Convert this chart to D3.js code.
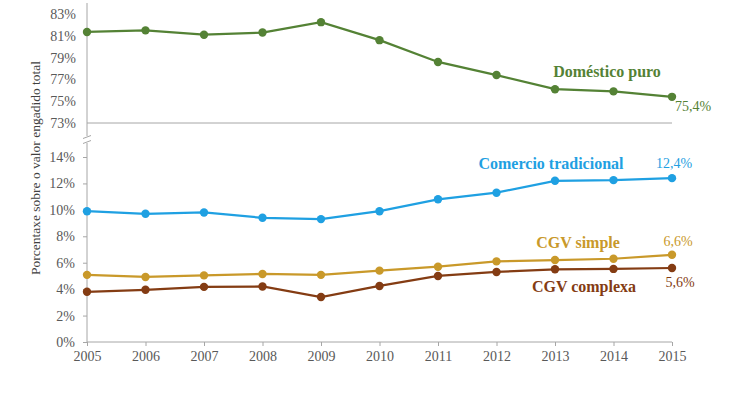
<!DOCTYPE html>
<html>
<head>
<meta charset="utf-8">
<script src="https://cdn.jsdelivr.net/npm/d3@7"></script>
<style>
  body { margin: 0; background: #fff; }
  svg text { font-family: "Liberation Serif", "Times New Roman", "DejaVu Serif", serif; }
</style>
</head>
<body>
<svg id="chart" width="747" height="396"></svg>
<script>
// ===============================
// Dades
// ===============================
const years = [2005, 2006, 2007, 2008, 2009, 2010, 2011, 2012, 2013, 2014, 2015];

const domesticoPuro = [81.35, 81.5, 81.1, 81.3, 82.25, 80.6, 78.6, 77.4, 76.1, 75.9, 75.4];
const comercioTradicional = [9.9, 9.7, 9.8, 9.4, 9.3, 9.9, 10.8, 11.3, 12.2, 12.25, 12.4];
const cgvSimple = [5.08, 4.92, 5.04, 5.15, 5.08, 5.4, 5.7, 6.1, 6.2, 6.3, 6.6];
const cgvComplexa = [3.8, 3.95, 4.17, 4.2, 3.4, 4.24, 5.0, 5.3, 5.5, 5.53, 5.6];

const topTicks = [73, 75, 77, 79, 81, 83];
const bottomTicks = [0, 2, 4, 6, 8, 10, 12, 14];

const serif = "'Liberation Serif', 'Times New Roman', 'DejaVu Serif', serif";

// ===============================
// Escales
// ===============================
const svg = d3.select("#chart");

const x = d3.scaleLinear().domain([2005, 2015]).range([87, 672]);
const yTop = d3.scaleLinear().domain([73, 83]).range([123, 14]);
const yBottom = d3.scaleLinear().domain([0, 14]).range([342, 157]);

const axisColor = "#a6a6a6";
const tickColor = "#595959";

// eixos verticals (amb tall)
svg.append("line")
  .attr("x1", 87).attr("x2", 87)
  .attr("y1", 3).attr("y2", 136)
  .attr("stroke", axisColor).attr("stroke-width", 1);

svg.append("line")
  .attr("x1", 87).attr("x2", 87)
  .attr("y1", 143).attr("y2", 342)
  .attr("stroke", axisColor).attr("stroke-width", 1);

// marques de tall
[137, 142].forEach(y => {
  svg.append("line")
    .attr("x1", 83).attr("x2", 91)
    .attr("y1", y + 1.5).attr("y2", y - 1.5)
    .attr("stroke", axisColor).attr("stroke-width", 1);
});

// línia base del panell superior
svg.append("line")
  .attr("x1", 87).attr("x2", 672)
  .attr("y1", yTop(73)).attr("y2", yTop(73))
  .attr("stroke", axisColor).attr("stroke-width", 1);

// eix Y superior
const gTop = svg.append("g")
  .attr("transform", "translate(87,0)")
  .call(d3.axisLeft(yTop).tickValues(topTicks).tickSize(0).tickPadding(11)
    .tickFormat(d => d + "%"));

// eix Y inferior
const gBottom = svg.append("g")
  .attr("transform", "translate(87,0)")
  .call(d3.axisLeft(yBottom).tickValues(bottomTicks).tickSize(4).tickPadding(8)
    .tickFormat(d => d + "%"));

// eix X
const gX = svg.append("g")
  .attr("transform", "translate(0,342)")
  .call(d3.axisBottom(x).tickValues(years).tickSize(4).tickPadding(5)
    .tickFormat(d3.format("d")));

[gTop, gBottom, gX].forEach(g => {
  g.attr("font-family", serif).attr("font-size", 14);
  g.select(".domain").remove();
  g.selectAll(".tick line").attr("stroke", axisColor);
  g.selectAll(".tick text").attr("fill", tickColor);
});

svg.append("line")
  .attr("x1", 87).attr("x2", 672)
  .attr("y1", 342).attr("y2", 342)
  .attr("stroke", axisColor).attr("stroke-width", 1);

// títol eix Y
svg.append("text")
  .attr("transform", "translate(40,168) rotate(-90)")
  .attr("text-anchor", "middle")
  .attr("font-family", serif)
  .attr("font-size", 13.5)
  .attr("fill", "#404040")
  .text("Porcentaxe sobre o valor engadido total");

// ===============================
// Sèries
// ===============================
const series = [
  { values: domesticoPuro, y: yTop, color: "#548235",
    name: "Doméstico puro", nx: 607, ny: 77, last: "75,4%", lx: 693, ly: 111 },
  { values: comercioTradicional, y: yBottom, color: "#1fa0e2",
    name: "Comercio tradicional", nx: 551, ny: 169, last: "12,4%", lx: 674, ly: 168 },
  { values: cgvSimple, y: yBottom, color: "#c9992a",
    name: "CGV simple", nx: 578, ny: 248, last: "6,6%", lx: 678, ly: 246 },
  { values: cgvComplexa, y: yBottom, color: "#843c13",
    name: "CGV complexa", nx: 584, ny: 292, last: "5,6%", lx: 680, ly: 287 }
];

series.forEach(s => {
  const line = d3.line()
    .x((d, i) => x(years[i]))
    .y(d => s.y(d));

  svg.append("path")
    .datum(s.values)
    .attr("d", line)
    .attr("fill", "none")
    .attr("stroke", s.color)
    .attr("stroke-width", 2.25);

  svg.append("g")
    .selectAll("circle")
    .data(s.values)
    .enter()
    .append("circle")
    .attr("cx", (d, i) => x(years[i]))
    .attr("cy", d => s.y(d))
    .attr("r", 4.2)
    .attr("fill", s.color);

  svg.append("text")
    .attr("x", s.nx).attr("y", s.ny)
    .attr("text-anchor", "middle")
    .attr("font-family", serif)
    .attr("font-size", 16)
    .attr("font-weight", "bold")
    .attr("fill", s.color)
    .text(s.name);

  svg.append("text")
    .attr("x", s.lx).attr("y", s.ly)
    .attr("text-anchor", "middle")
    .attr("font-family", serif)
    .attr("font-size", 14)
    .attr("fill", s.color)
    .text(s.last);
});
</script>
</body>
</html>
